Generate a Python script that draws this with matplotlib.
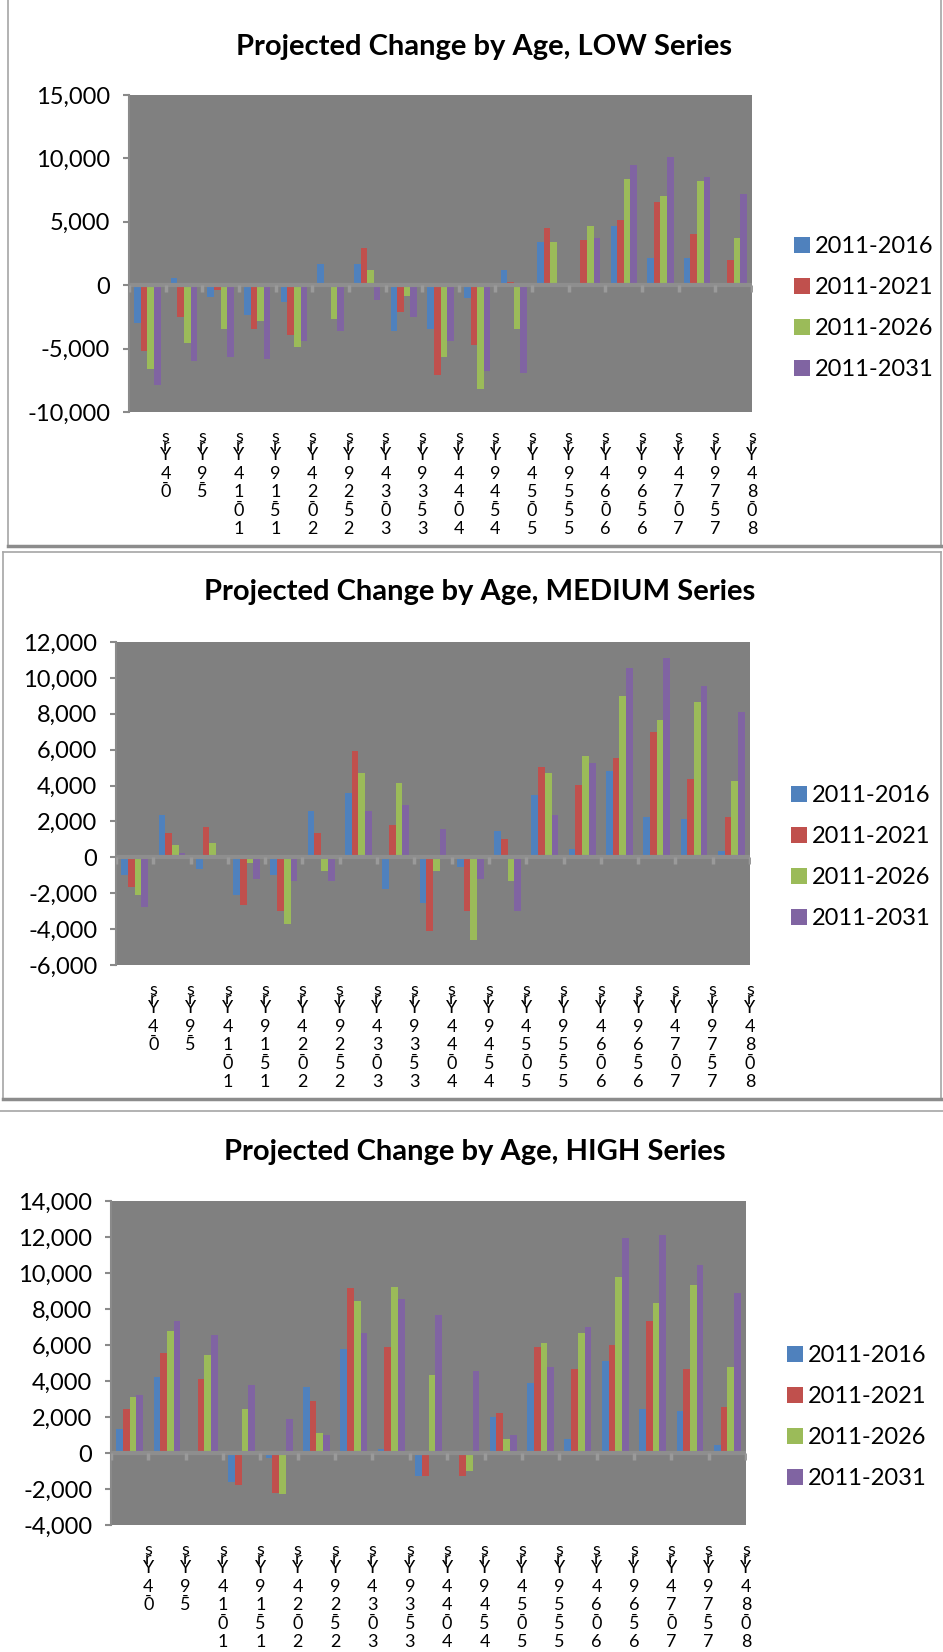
import numpy as np
import matplotlib.pyplot as plt
from matplotlib.lines import Line2D

plt.rcParams['font.family'] = ['Lato', 'DejaVu Sans']

# Dados (variação projetada por faixa etária)
ages = ['0-4 Yrs', '5-9 Yrs', '10-14 Yrs', '15-19 Yrs', '20-24 Yrs', '25-29 Yrs',
        '30-34 Yrs', '35-39 Yrs', '40-44 Yrs', '45-49 Yrs', '50-54 Yrs', '55-59 Yrs',
        '60-64 Yrs', '65-69 Yrs', '70-74 Yrs', '75-79 Yrs', '80-84 Yrs']
periods = ['2011-2016', '2011-2021', '2011-2026', '2011-2031']

low_2016 = [-2950, 530, -900, -2340, -1360, 1650, 1650, -3590, -3430, -1040, 1170, 3400, 200, 4680, 2130, 2130, 200]
low_2021 = [-5190, -2470, -400, -3430, -3910, -100, 2930, -2150, -7100, -4710, 240, 4520, 3540, 5160, 6600, 4040, 1970]
low_2026 = [-6600, -4550, -3430, -2790, -4870, -2630, 1170, -880, -5660, -8220, -3430, 3400, 4680, 8350, 7070, 8190, 3720]
low_2031 = [-7870, -5980, -5660, -5800, -4390, -3590, -1200, -2470, -4390, -6780, -6940, 130, 3720, 9470, 10110, 8510, 7230]

med_2016 = [-990, 2380, -660, -2120, -990, 2580, 3610, -1760, -2550, -540, 1460, 3480, 470, 4830, 2250, 2130, 360]
med_2021 = [-1650, 1370, 1700, -2660, -3000, 1370, 5940, 1820, -4100, -3000, 1010, 5060, 4040, 5510, 6970, 4380, 2250]
med_2026 = [-2120, 690, 810, -340, -3700, -750, 4720, 4160, -750, -4600, -1330, 4720, 5620, 8990, 7640, 8650, 4270]
med_2031 = [-2770, 240, 130, -1200, -1330, -1330, 2580, 2920, 1570, -1200, -3000, 2360, 5280, 10540, 11100, 9530, 8090]

high_2016 = [1360, 4230, -100, -1600, -300, 3680, 5790, 220, -1300, -100, 2000, 3900, 800, 5130, 2450, 2340, 460]
high_2021 = [2450, 5550, 4120, -1800, -2200, 2900, 9140, 5910, -1300, -1300, 2230, 5910, 4680, 6020, 7350, 4680, 2560]
high_2026 = [3120, 6800, 5460, 2450, -2300, 1110, 8470, 9250, 4350, -1000, 780, 6130, 6690, 9800, 8360, 9360, 4790]
high_2031 = [3230, 7350, 6570, 3790, 1890, 1000, 6690, 8580, 7690, 4570, 1000, 4790, 7020, 11920, 12110, 10470, 8900]

cores = ['#4F81BD', '#C0504D', '#9BBB59', '#8064A2']

W, H = 943, 1652
fig = plt.figure(figsize=(W / 100, H / 100), dpi=100)


def fx(px):
    return px / W


def fy(py):
    return 1 - py / H


# bordas dos painéis
def borda(x0, y0, x1, y1, lados):
    cor = '#A6A6A6'
    if 'l' in lados:
        fig.add_artist(Line2D([fx(x0), fx(x0)], [fy(y0), fy(y1)], color=cor, lw=1.2))
    if 'r' in lados:
        fig.add_artist(Line2D([fx(x1), fx(x1)], [fy(y0), fy(y1)], color=cor, lw=1.2))
    if 't' in lados:
        fig.add_artist(Line2D([fx(x0), fx(x1)], [fy(y0), fy(y0)], color=cor, lw=1.2))
    if 'b' in lados:
        fig.add_artist(Line2D([fx(x0), fx(x1)], [fy(y1), fy(y1)], color='#8C8C8C', lw=2.5))


borda(8, -5, 941, 546, 'lrb')
borda(3, 552, 941, 1099, 'lrtb')
borda(0, 1111, 943, 1660, 't')


def painel(caixa, titulo, tpos, series, ylim, passo, leg):
    l, t, r, b = caixa
    ax = fig.add_axes([fx(l), fy(b), fx(r - l), (b - t) / H])
    ax.set_facecolor('#808080')
    x = np.arange(len(ages))
    w = 0.18
    for j, vals in enumerate(series):
        ax.bar(x + (j - 1.5) * w, vals, w, color=cores[j], label=periods[j], zorder=2)
    ax.axhline(0, color='#8E8E8E', lw=3, zorder=3)
    bnd = np.arange(len(ages) + 1) - 0.5
    ax.plot(bnd, np.zeros_like(bnd), ls='none', marker=3, ms=5, mew=2.5, color='#9A9A9A', zorder=3)
    ax.set_xlim(-0.5, len(ages) - 0.5)
    ax.set_ylim(*ylim)
    ax.set_yticks(np.arange(ylim[0], ylim[1] + 1, passo))
    ax.yaxis.set_major_formatter(plt.FuncFormatter(lambda v, p: f'{int(v):,}'))
    ax.set_xticks([])
    for s in ['top', 'right', 'bottom']:
        ax.spines[s].set_visible(False)
    ax.spines['left'].set_color('#8A8A8A')
    ax.spines['left'].set_linewidth(1.5)
    ax.tick_params(axis='y', direction='out', length=4.5, width=1.5, color='#8A8A8A',
                   labelsize=17, pad=9)

    # rótulos empilhados (texto vertical do Excel, de baixo para cima)
    for i, lab in enumerate(ages):
        y = 12.0
        for ch in reversed(lab):
            if ch == ' ':
                continue
            if ch in 'r-':
                ax.annotate(ch, xy=(i + 0.5, 0), xycoords=('data', 'axes fraction'),
                            xytext=(0, -(y - 6.5)), textcoords='offset points',
                            ha='center', va='top', fontsize=13, annotation_clip=False)
                continue
            ax.annotate(ch, xy=(i + 0.5, 0), xycoords=('data', 'axes fraction'),
                        xytext=(0, -y), textcoords='offset points',
                        ha='center', va='top', fontsize=13, annotation_clip=False)
            y += 13.3

    fig.text(fx(tpos[0]), fy(tpos[1]), titulo, ha='center', va='center',
             fontsize=21, fontweight='bold')
    ax.legend(loc='center left', bbox_to_anchor=(fx(leg[0]), fy(leg[1])),
              bbox_transform=fig.transFigure, frameon=False, fontsize=17,
              handlelength=0.68, handleheight=0.68, handletextpad=0.2,
              labelspacing=0.85, borderpad=0, borderaxespad=0)
    return ax


painel((129, 95, 752, 412), 'Projected Change by Age, LOW Series', (484, 47),
       [low_2016, low_2021, low_2026, low_2031], (-10000, 15000), 5000, (794, 308))
painel((116, 642, 750, 965), 'Projected Change by Age, MEDIUM Series', (480, 592),
       [med_2016, med_2021, med_2026, med_2031], (-6000, 12000), 2000, (791, 857))
painel((111, 1201, 746, 1525), 'Projected Change by Age, HIGH Series', (475, 1152),
       [high_2016, high_2021, high_2026, high_2031], (-4000, 14000), 2000, (787, 1417))

fig.savefig('out.png', dpi=100)
